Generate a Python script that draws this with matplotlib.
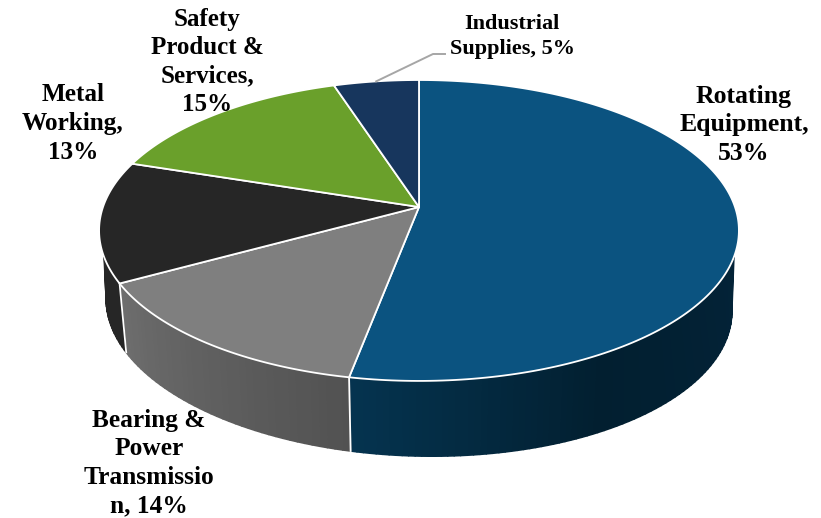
import numpy as np
import matplotlib.pyplot as plt
from matplotlib.collections import PolyCollection
from matplotlib.colors import to_rgb

categories = ["Rotating\nEquipment", "Bearing &\nPower\nTransmissio\nn", "Metal\nWorking", "Safety\nProduct &\nServices", "Industrial\nSupplies"]
shares = [53, 14, 13, 15, 5]
top_colors = ["#0b5380", "#7f7f7f", "#262626", "#6aa02b", "#17365d"]

# label placement, in pixels
label_xy = [(744, 125), (149, 463), (73, 123.5), (207, 62), (512, 36.5)]
label_size = [18.5, 18.3, 18.2, 18, 16]
label_sep = ["\n", " ", "\n", "\n", " "]
label_gap = [1.33, 1.29, 1.33, 1.29, 1.35]

k = 0.156


def top(t):
    t = np.radians(t)
    w = 1 + k*np.cos(t)
    return 419 + 316*np.sin(t)/w, 207 - 146.8*np.cos(t)/w


def bottom(t):
    t = np.radians(t)
    w = 1 + k*np.cos(t)
    x = 419 + 309*np.sin(t)/w
    return x, 281.4 - 147.4*np.cos(t)/w + 0.02*(x - 419)


def wall(t0, t1, b0, b1, c0, c1, n=40):
    # strip of small quads between the top rim and the bottom rim, shaded along the way
    s = np.linspace(0, 1, n + 1)
    xt, yt = top(t0 + (t1 - t0)*s)
    xb, yb = bottom(b0 + (b1 - b0)*s)
    quads, cols = [], []
    for i in range(n):
        quads.append([(xt[i], yt[i]), (xt[i+1], yt[i+1]), (xb[i+1], yb[i+1]), (xb[i], yb[i])])
        f = s[i]
        cols.append(tuple(np.array(to_rgb(c0))*(1 - f) + np.array(to_rgb(c1))*f))
    ax.add_collection(PolyCollection(quads, facecolors=cols, edgecolors=cols, linewidths=1.2,
                                     joinstyle="round", zorder=1))


fig = plt.figure(figsize=(8.21, 5.18), dpi=100)
ax = fig.add_axes([0, 0, 1, 1])
ax.set_xlim(0, 821)
ax.set_ylim(518, 0)
ax.axis("off")

edges = np.cumsum([0] + shares)*3.6

# side walls, only the front part shows
wall(108.9, 150, 99, 150, "#032338", "#021f30")
wall(150, edges[1], 150, edges[1], "#021f30", "#053450")
wall(edges[1], edges[2], edges[1], edges[2], "#525252", "#6e6e6e")
wall(edges[2], 251.1, edges[2], 261, "#262626", "#262626", n=20)

# seams on the wall
for e in edges[1:3]:
    ax.plot(*zip(top(e), bottom(e)), color="white", lw=1.3, zorder=2)

# top face
for i in range(len(shares)):
    t = np.linspace(edges[i], edges[i+1], 200)
    x, y = top(t)
    ax.fill(np.r_[419, x], np.r_[207, y], color=top_colors[i], ec="white", lw=1.3, joinstyle="round", zorder=3)

# leader line for the small slice
lx, ly = top((edges[4] + edges[5])/2)
ax.plot([lx, 433, 445], [ly, 54, 54], color="#a6a6a6", lw=1.4, zorder=4)

for name, val, (x, y), fs, sep, gap in zip(categories, shares, label_xy, label_size, label_sep, label_gap):
    ax.text(x, y, f"{name},{sep}{val}%", ha="center", va="center", fontsize=fs, fontweight="bold",
            family="Liberation Serif", color="black", linespacing=gap, zorder=5)

fig.savefig("out.png", dpi=100)
